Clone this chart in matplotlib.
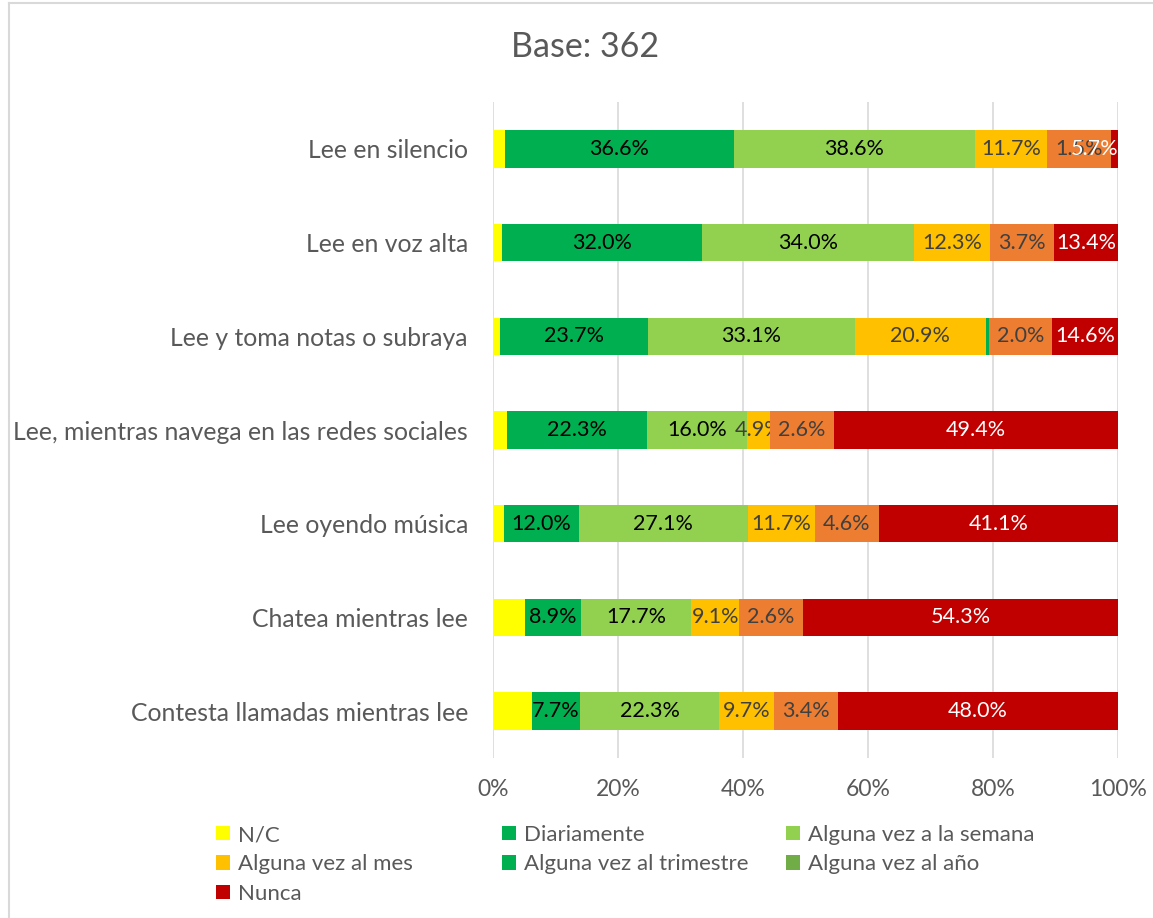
import matplotlib
matplotlib.use("Agg")
import matplotlib.pyplot as plt
from matplotlib.patches import Patch
from matplotlib.lines import Line2D

plt.rcParams['font.family'] = ['Lato', 'DejaVu Sans']

# categories, top to bottom
categories = ["Lee en silencio", "Lee en voz alta", "Lee y toma notas o subraya",
              "Lee, mientras navega en las redes sociales", "Lee oyendo música",
              "Chatea mientras lee", "Contesta llamadas mientras lee"]

# segment widths as drawn (% of the axis)
nc = [1.9, 1.4, 1.1, 2.3, 1.7, 5.1, 6.2]
diariamente = [36.6, 32.0, 23.7, 22.3, 12.0, 8.9, 7.7]
semana = [38.6, 34.0, 33.1, 16.0, 27.1, 17.7, 22.3]
mes = [11.5, 12.1, 20.9, 3.7, 10.7, 7.7, 8.8]
trimestre = [0, 0, 0.5, 0, 0, 0, 0]
anio = [10.2, 10.2, 10.2, 10.2, 10.2, 10.2, 10.2]
nunca = [1.2, 10.3, 10.5, 45.5, 38.3, 50.4, 44.8]

# data label texts shown on the chart
lbl_diariamente = ["36.6%", "32.0%", "23.7%", "22.3%", "12.0%", "8.9%", "7.7%"]
lbl_semana = ["38.6%", "34.0%", "33.1%", "16.0%", "27.1%", "17.7%", "22.3%"]
lbl_mes = ["11.7%", "12.3%", "20.9%", "4.9%", "11.7%", "9.1%", "9.7%"]
lbl_anio = ["1.5%", "3.7%", "2.0%", "2.6%", "4.6%", "2.6%", "3.4%"]
lbl_nunca = ["5.7%", "13.4%", "14.6%", "49.4%", "41.1%", "54.3%", "48.0%"]

series = [
    ("N/C", nc, "#FFFF00", None, None),
    ("Diariamente", diariamente, "#00B050", lbl_diariamente, "#000000"),
    ("Alguna vez a la semana", semana, "#92D050", lbl_semana, "#000000"),
    ("Alguna vez al mes", mes, "#FFC000", lbl_mes, "#404040"),
    ("Alguna vez al trimestre", trimestre, "#00B050", None, None),
    ("Alguna vez al año", anio, "#ED7D31", lbl_anio, "#404040"),
    ("Nunca", nunca, "#C00000", lbl_nunca, "#FFFFFF"),
]
legend_colors = {"N/C": "#FFFF00", "Diariamente": "#00B050",
                 "Alguna vez a la semana": "#92D050", "Alguna vez al mes": "#FFC000",
                 "Alguna vez al trimestre": "#00B050", "Alguna vez al año": "#70AD47",
                 "Nunca": "#C00000"}

fig = plt.figure(figsize=(11.53, 9.18), dpi=100)
ax = fig.add_axes([493 / 1153, 1 - 758 / 918, 625 / 1153, 656 / 918])

y = list(range(len(categories)))
left = [0.0] * len(categories)
labels = []
for i, (name, vals, color, lbls, tcolor) in enumerate(series):
    ax.barh(y, vals, left=left, height=0.4, color=color, zorder=2 + 2 * i)
    for j in range(len(categories)):
        if lbls is not None and vals[j] > 0:
            t = ax.text(left[j] + vals[j] / 2, y[j], lbls[j], ha="center", va="center",
                        color=tcolor, fontsize=15.5, zorder=3 + 2 * i)
            labels.append(t)
    left = [a + b for a, b in zip(left, vals)]

ax.set_xlim(0, 100)
ax.set_ylim(len(categories) - 0.5, -0.5)
ax.set_xticks([0, 20, 40, 60, 80, 100])
ax.set_xticklabels(["0%", "20%", "40%", "60%", "80%", "100%"])
ax.set_yticks(y)
ax.set_yticklabels(categories)
ax.tick_params(axis="x", length=0, pad=15, labelsize=16.5, labelcolor="#595959")
ax.tick_params(axis="y", length=0, pad=18, labelsize=17.8, labelcolor="#595959")
ax.grid(axis="x", color="#D9D9D9", linewidth=1.2)
ax.set_axisbelow(True)
for s in ax.spines.values():
    s.set_visible(False)

# keep labels inside the plot area, like the original
fig.canvas.draw()
r = fig.canvas.get_renderer()
ax_right = ax.get_window_extent(r).x1
for t in labels:
    bb = t.get_window_extent(r)
    if bb.x1 > ax_right:
        t.set_x(100)
        t.set_ha("right")

fig.text(585 / 1153, 1 - 47 / 918, "Base: 362", ha="center", va="center",
         fontsize=24.5, color="#595959")

# legend, three columns
cols = [["N/C", "Alguna vez al mes", "Nunca"],
        ["Diariamente", "Alguna vez al trimestre"],
        ["Alguna vez a la semana", "Alguna vez al año"]]
col_x = [216, 502, 786]
for names, cx in zip(cols, col_x):
    handles = [Patch(facecolor=legend_colors[n], edgecolor="none") for n in names]
    fig.legend(handles, names, loc="upper left", bbox_to_anchor=(cx / 1153, 1 - 825 / 918),
               frameon=False, fontsize=16, labelcolor="#595959", handlelength=0.62,
               handleheight=0.62, handletextpad=0.35, labelspacing=0.42, borderpad=0,
               borderaxespad=0)

# chart border
fig.add_artist(Line2D([9 / 1153, 1], [1 - 3 / 918, 1 - 3 / 918], color="#D9D9D9", lw=1.5))
fig.add_artist(Line2D([9 / 1153, 9 / 1153], [0, 1 - 3 / 918], color="#D9D9D9", lw=1.5))

fig.savefig("out.png", dpi=100)
